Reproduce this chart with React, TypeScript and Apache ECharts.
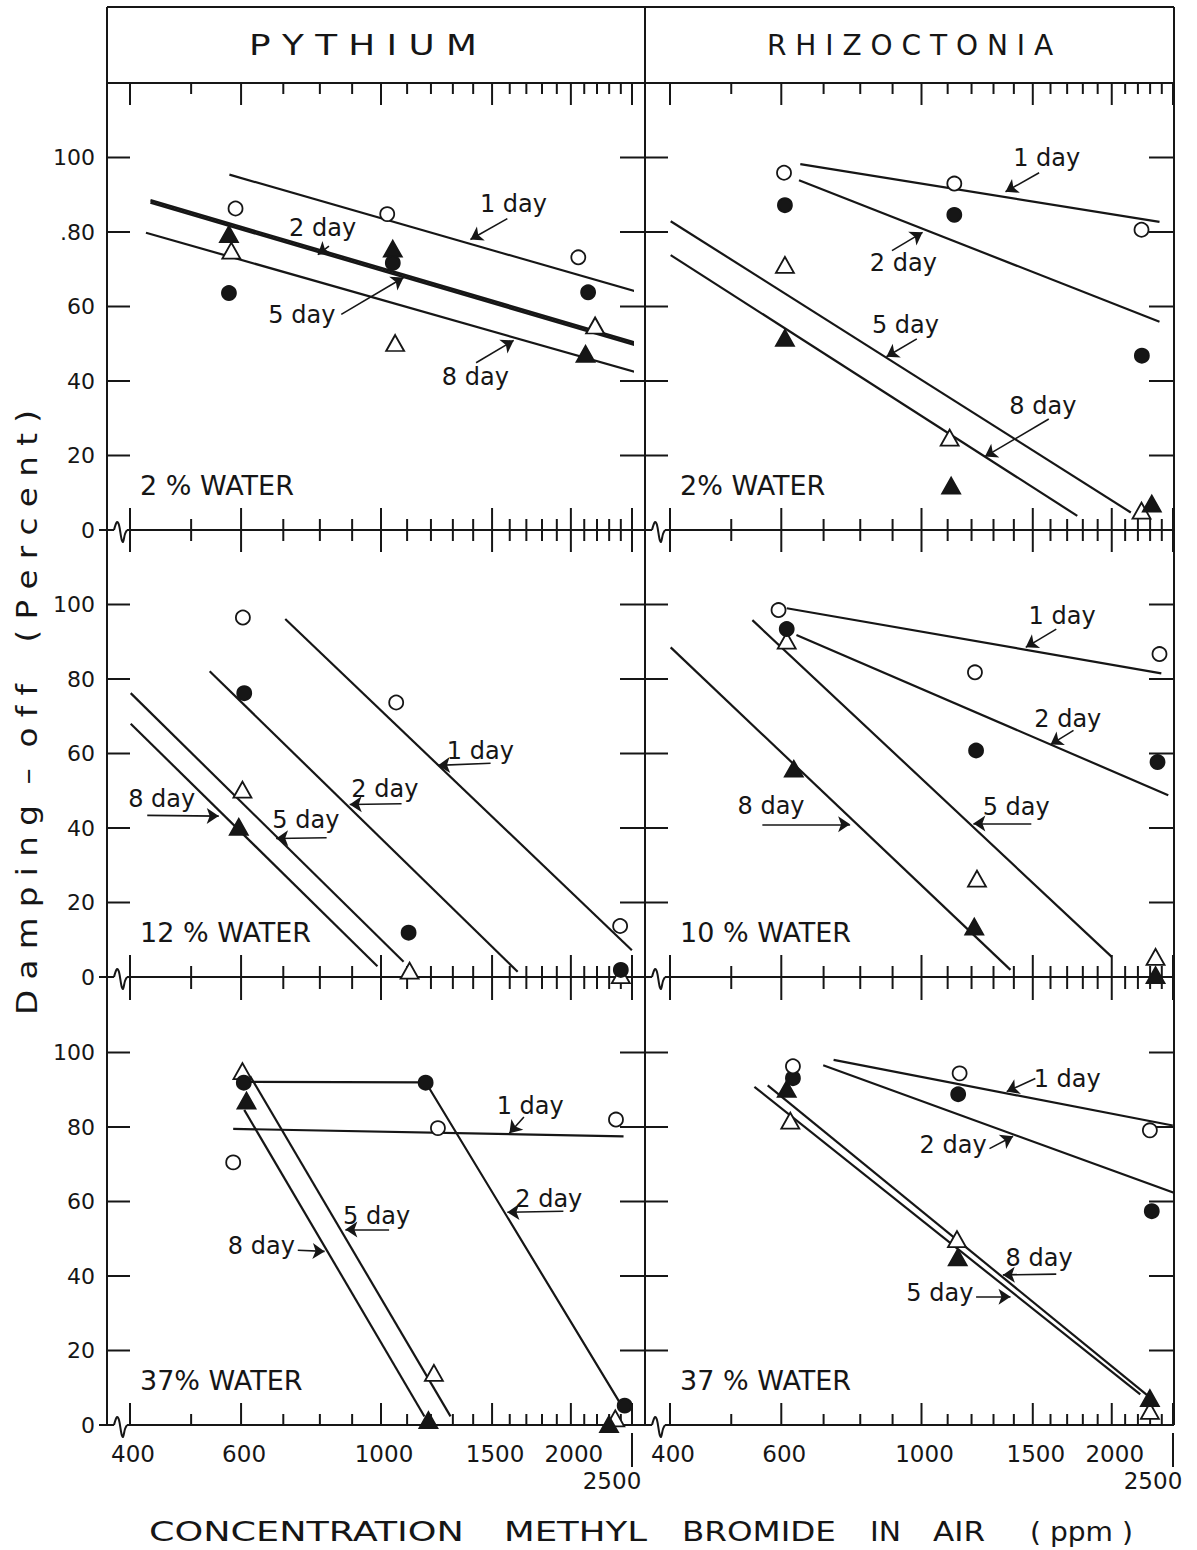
import { useEffect, useRef } from "react";
import * as echarts from "echarts";

// ---------------- axes, ticks, titles ----------------
const X_MIN = 400;
const X_MAX = 2500;
const Y_MIN = 0;
const Y_MAX = 120;
const X_TICKS = [400, 500, 600, 700, 800, 900, 1000, 1100, 1200, 1300, 1400, 1500, 1600, 1700, 1800, 1900, 2000, 2100, 2200, 2300, 2400, 2500];
const X_MAJOR_TICKS = [400, 600, 1000, 1500, 2000, 2500];
const X_TICK_LABELS = [400, 600, 1000, 1500, 2000];
const X_END_TICK = 2500;
const Y_TICKS = [0, 20, 40, 60, 80, 100];
const Y_TICK_LABELS_TOP = ["0", "20", "40", "60", ".80", "100"];
const Y_TICK_LABELS = ["0", "20", "40", "60", "80", "100"];

const ORGANISMS = ["P Y T H I U M", "R H I Z O C T O N I A"];
const WATER_LABELS = ["2 % WATER", "2% WATER", "12 % WATER", "10 % WATER", "37% WATER", "37 % WATER"];
const X_TITLE_WORDS = ["CONCENTRATION", "METHYL", "BROMIDE", "IN", "AIR", "( ppm )"];
const Y_TITLE = "D a m p i n g  –  o f f    ( P e r c e n t )";

// ---------------- data: [concentration ppm, damping-off %] ----------------
// Panel 1: Pythium, 2 % water
const P1_DAY1 = [[588, 86.3], [1023, 84.8], [2055, 73.2]];
const P1_DAY2 = [[574, 63.6], [1044, 71.7], [2130, 63.8]];
const P1_DAY5 = [[579, 75.0], [1053, 50.2], [2185, 54.9]];
const P1_DAY8 = [[574, 79.4], [1044, 75.5], [2110, 47.3]];
const P1_FIT1 = [[575, 95.4], [2540, 64.0]];
const P1_FIT2 = [[431, 88.5], [2540, 50.2]];
const P1_FIT5 = [[431, 87.9], [2540, 49.6]];
const P1_FIT8 = [[424, 79.8], [2520, 42.5]];
const P1_NOTES = [
  { text: "1 day", at: [1622, 87.4], from: [1586, 83.6], to: [1386, 78.0] },
  { text: "2 day", at: [808, 81.2], from: [827, 76.2], to: [794, 73.9] },
  { text: "5 day", at: [749, 57.8], from: [865, 57.9], to: [1086, 67.8] },
  { text: "8 day", at: [1411, 41.0], from: [1415, 44.9], to: [1623, 50.9] },
];

// Panel 2: Rhizoctonia, 2 % water
const P2_DAY1 = [[606, 95.9], [1127, 93.0], [2229, 80.6]];
const P2_DAY2 = [[608, 87.2], [1127, 84.6], [2232, 46.8]];
const P2_DAY5 = [[608, 71.2], [1108, 24.8], [2229, 5.2]];
const P2_DAY8 = [[608, 51.6], [1114, 11.9], [2314, 7.1]];
const P2_FIT1 = [[643, 98.2], [2380, 82.7]];
const P2_FIT2 = [[640, 93.9], [2380, 55.9]];
const P2_FIT5 = [[401, 82.9], [2144, 4.7]];
const P2_FIT8 = [[401, 73.8], [1764, 3.8]];
const P2_NOTES = [
  { text: "1 day", at: [1578, 99.9], from: [1535, 95.9], to: [1358, 90.8] },
  { text: "2 day", at: [936, 71.7], from: [898, 75.0], to: [1004, 79.9] },
  { text: "5 day", at: [943, 54.9], from: [983, 51.3], to: [880, 46.5] },
  { text: "8 day", at: [1556, 33.4], from: [1590, 29.8], to: [1260, 19.7] },
];

// Panel 3: Pythium, 12 % water
const P3_DAY1 = [[604, 96.5], [1057, 73.7], [2394, 13.7]];
const P3_DAY2 = [[607, 76.2], [1106, 11.9], [2400, 1.9]];
const P3_DAY5 = [[603, 50.3], [1110, 1.7], [2400, 0.5]];
const P3_DAY8 = [[595, 40.3]];
const P3_FIT1 = [[705, 96.1], [2499, 7.2]];
const P3_FIT2 = [[535, 82.1], [1647, 1.4]];
const P3_FIT5 = [[401, 76.2], [1086, 4.1]];
const P3_FIT8 = [[401, 68.0], [987, 2.9]];
const P3_NOTES = [
  { text: "1 day", at: [1437, 60.8], from: [1492, 57.4], to: [1231, 56.8] },
  { text: "2 day", at: [1014, 50.5], from: [1078, 46.5], to: [892, 46.3] },
  { text: "5 day", at: [760, 42.1], from: [820, 37.4], to: [682, 37.2] },
  { text: "8 day", at: [449, 47.9], from: [426, 43.4], to: [553, 43.2] },
];

// Panel 4: Rhizoctonia, 10 % water
const P4_DAY1 = [[594, 98.5], [1215, 81.8], [2380, 86.7]];
const P4_DAY2 = [[612, 93.4], [1220, 60.8], [2363, 57.7]];
const P4_DAY5 = [[612, 90.3], [1224, 26.4], [2346, 5.4]];
const P4_DAY8 = [[628, 55.9], [1212, 13.5], [2346, 0.5]];
const P4_FIT1 = [[612, 99.0], [2396, 81.5]];
const P4_FIT2 = [[634, 91.8], [2457, 48.8]];
const P4_FIT5 = [[540, 95.8], [2000, 5.4]];
const P4_FIT8 = [[401, 88.5], [1383, 1.9]];
const P4_NOTES = [
  { text: "1 day", at: [1669, 97.0], from: [1634, 93.4], to: [1462, 88.5] },
  { text: "2 day", at: [1704, 69.3], from: [1740, 66.2], to: [1600, 62.4] },
  { text: "5 day", at: [1412, 45.6], from: [1492, 41.2], to: [1208, 41.2] },
  { text: "8 day", at: [578, 45.8], from: [560, 41.0], to: [771, 41.0] },
];

// Panel 5: Pythium, 37 % water
const P5_DAY1 = [[583, 70.5], [1231, 79.7], [2358, 82.0]];
const P5_DAY2 = [[606, 91.9], [1177, 91.9], [2434, 5.2]];
const P5_DAY5 = [[603, 95.0], [1213, 14.0], [2352, 1.8]];
const P5_DAY8 = [[612, 87.1], [1189, 1.3], [2299, 0.2]];
const P5_FIT1 = [[583, 79.5], [2424, 77.5]];
const P5_FIT2 = [[606, 92.1], [1177, 92.0], [2387, 6.2]];
const P5_FIT5 = [[620, 93.7], [1289, 2.3]];
const P5_FIT8 = [[607, 84.6], [1172, 2.3]];
const P5_NOTES = [
  { text: "1 day", at: [1724, 85.6], from: [1685, 82.7], to: [1598, 78.3] },
  { text: "2 day", at: [1845, 60.8], from: [1946, 57.4], to: [1586, 57.1] },
  { text: "5 day", at: [984, 56.1], from: [1030, 52.5], to: [878, 52.5] },
  { text: "8 day", at: [646, 48.1], from: [738, 46.9], to: [814, 46.6] },
];

// Panel 6: Rhizoctonia, 37 % water
const P6_DAY1 = [[626, 96.3], [1149, 94.4], [2298, 79.1]];
const P6_DAY2 = [[626, 93.1], [1143, 88.8], [2314, 57.4]];
const P6_DAY5 = [[620, 81.7], [1138, 49.9], [2298, 3.8]];
const P6_DAY8 = [[612, 90.2], [1141, 45.0], [2298, 7.2]];
const P6_FIT1 = [[726, 98.0], [2498, 80.4]];
const P6_FIT2 = [[699, 96.6], [2520, 62.2]];
const P6_FIT5 = [[544, 90.8], [2219, 8.2]];
const P6_FIT8 = [[571, 91.2], [2298, 7.4]];
const P6_NOTES = [
  { text: "1 day", at: [1700, 93.0], from: [1514, 93.0], to: [1364, 89.5] },
  { text: "2 day", at: [1122, 75.2], from: [1281, 74.2], to: [1396, 77.5] },
  { text: "8 day", at: [1535, 44.7], from: [1634, 40.5], to: [1345, 40.3] },
  { text: "5 day", at: [1069, 35.4], from: [1220, 34.4], to: [1383, 34.4] },
];

const PANELS = [
  { pts: [P1_DAY1, P1_DAY2, P1_DAY5, P1_DAY8], fits: [P1_FIT1, P1_FIT2, P1_FIT5, P1_FIT8], notes: P1_NOTES, thick: true },
  { pts: [P2_DAY1, P2_DAY2, P2_DAY5, P2_DAY8], fits: [P2_FIT1, P2_FIT2, P2_FIT5, P2_FIT8], notes: P2_NOTES, thick: false },
  { pts: [P3_DAY1, P3_DAY2, P3_DAY5, P3_DAY8], fits: [P3_FIT1, P3_FIT2, P3_FIT5, P3_FIT8], notes: P3_NOTES, thick: false },
  { pts: [P4_DAY1, P4_DAY2, P4_DAY5, P4_DAY8], fits: [P4_FIT1, P4_FIT2, P4_FIT5, P4_FIT8], notes: P4_NOTES, thick: false },
  { pts: [P5_DAY1, P5_DAY2, P5_DAY5, P5_DAY8], fits: [P5_FIT1, P5_FIT2, P5_FIT5, P5_FIT8], notes: P5_NOTES, thick: false },
  { pts: [P6_DAY1, P6_DAY2, P6_DAY5, P6_DAY8], fits: [P6_FIT1, P6_FIT2, P6_FIT5, P6_FIT8], notes: P6_NOTES, thick: false },
];

// ---------------- layout & style ----------------
const W = 1197;
const H = 1550;
const FONT_NAME = "DejaVu Sans";
const INK = "#161616";
const COL_LEFT = [130, 670];
const COL_WIDTH = [502, 503];
const ROW_BOTTOM = [530, 977, 1425];
const ROW_HEIGHT = 447;
const FRAME_X = [107, 645, 1174];
const FRAME_TOP = 7;
const HEADER_BOTTOM = 83;
const HEADER_SPANS = [[249, 477], [767, 1053]];
const HEADER_Y = 45;
const X_TITLE_SPANS = [[149, 464], [504, 647], [682, 836], [870, 901], [933, 985], [1030, 1133]];
const X_TITLE_Y = 1532;
const Y_TITLE_X = 27;
const Y_TITLE_SPAN = [410, 1015];
// draw order: 5 day (open tri), 8 day (filled tri), 2 day (filled circle), 1 day (open circle)
const DRAW_ORDER = [2, 3, 1, 0];
const MARKERS = [
  { symbol: "circle", size: 14, fill: "#ffffff" },
  { symbol: "circle", size: 14, fill: INK },
  { symbol: "triangle", size: [18, 16], fill: "#ffffff" },
  { symbol: "triangle", size: [18, 16], fill: INK },
];

function font(size: number) {
  return `${size}px "${FONT_NAME}"`;
}

function measure(text: string, size: number): number {
  const ctx = document.createElement("canvas").getContext("2d");
  if (!ctx) return text.length * size * 0.6;
  ctx.font = font(size);
  return ctx.measureText(text).width;
}

function seg(x1: number, y1: number, x2: number, y2: number, w = 2) {
  return { type: "line", silent: true, shape: { x1, y1, x2, y2 }, style: { stroke: INK, lineWidth: w } };
}

function txt(text: string, x: number, y: number, size: number, align: string) {
  return {
    type: "text",
    x,
    y,
    silent: true,
    style: {
      text,
      font: font(size),
      fill: INK,
      textAlign: align,
      align,
      textVerticalAlign: "middle",
      verticalAlign: "middle",
    },
  };
}

function fitText(text: string, x0: number, x1: number, y: number, size: number) {
  const el: any = txt(text, x0, y, size, "left");
  el.scaleX = (x1 - x0) / measure(text, size);
  return el;
}

function buildOption() {
  const grid: any[] = [];
  const xAxis: any[] = [];
  const yAxis: any[] = [];
  const series: any[] = [];

  PANELS.forEach((p, i) => {
    const col = i % 2;
    const row = Math.floor(i / 2);
    const leftFrame = FRAME_X[col];
    const rightFrame = FRAME_X[col + 1];
    grid.push({ left: COL_LEFT[col], top: ROW_BOTTOM[row] - ROW_HEIGHT, width: COL_WIDTH[col], height: ROW_HEIGHT });
    xAxis.push({ type: "log", logBase: 10, gridIndex: i, min: X_MIN, max: X_MAX, show: false });
    yAxis.push({ type: "value", gridIndex: i, min: Y_MIN, max: Y_MAX, show: false });

    // x-axis line with break mark
    series.push({
      type: "custom",
      xAxisIndex: i,
      yAxisIndex: i,
      silent: true,
      clip: false,
      z: 1,
      data: [[X_MIN, Y_MIN]],
      renderItem: (_params: any, api: any) => {
        const y = api.coord([X_MIN, Y_MIN])[1];
        const start = col === 0 ? leftFrame - 8 : leftFrame;
        const b = leftFrame + 7;
        return {
          type: "group",
          children: [
            seg(start, y, b, y),
            {
              type: "polyline",
              shape: { points: [[b, y], [b + 3, y - 8], [b + 5, y - 5], [b + 7.5, y + 9], [b + 9, y + 12], [b + 11, y + 4], [b + 13, y]], smooth: 0.35 },
              style: { stroke: INK, lineWidth: 2, fill: null },
            },
            seg(b + 13, y, rightFrame, y),
          ],
        };
      },
    });

    // x ticks (bottom up, top down) and bottom labels
    series.push({
      type: "custom",
      xAxisIndex: i,
      yAxisIndex: i,
      silent: true,
      clip: false,
      z: 1,
      data: X_TICKS.map((t) => [t, Y_MIN]),
      renderItem: (_params: any, api: any) => {
        const t = Math.round(api.value(0));
        const bp = api.coord([t, Y_MIN]);
        const tp = api.coord([t, Y_MAX]);
        const len = X_MAJOR_TICKS.indexOf(t) >= 0 ? 22 : 11;
        const children: any[] = [seg(bp[0], bp[1], bp[0], bp[1] - len), seg(tp[0], tp[1], tp[0], tp[1] + len)];
        if (row === 2) {
          if (X_TICK_LABELS.indexOf(t) >= 0) children.push(txt(String(t), bp[0] + 3, bp[1] + 29, 23, "center"));
          if (t === X_END_TICK) {
            children.push(seg(bp[0], bp[1] + 8, bp[0], bp[1] + 42));
            children.push(txt(String(t), bp[0] - 20, bp[1] + 56, 23, "center"));
          }
        }
        return { type: "group", children };
      },
    });

    // y ticks and labels
    const yLabels = i === 0 ? Y_TICK_LABELS_TOP : Y_TICK_LABELS;
    series.push({
      type: "custom",
      xAxisIndex: i,
      yAxisIndex: i,
      silent: true,
      clip: false,
      z: 1,
      data: Y_TICKS.map((v) => [X_MIN, v]),
      renderItem: (params: any, api: any) => {
        const v = api.value(1);
        const y = api.coord([X_MIN, v])[1];
        const children: any[] = [];
        if (v > 0) {
          children.push(seg(leftFrame, y, leftFrame + 23, y));
          children.push(seg(rightFrame - 25, y, rightFrame, y));
        }
        if (col === 0) children.push(txt(yLabels[params.dataIndex], 95, y, 22, "right"));
        return { type: "group", children };
      },
    });

    // fitted lines
    p.fits.forEach((fit, k) => {
      series.push({
        type: "line",
        xAxisIndex: i,
        yAxisIndex: i,
        data: fit,
        symbol: "none",
        silent: true,
        clip: false,
        z: 2,
        lineStyle: { color: INK, width: p.thick && (k === 1 || k === 2) ? 2.6 : 2.2 },
      });
    });

    // observed points
    DRAW_ORDER.forEach((k) => {
      const m = MARKERS[k];
      series.push({
        type: "scatter",
        xAxisIndex: i,
        yAxisIndex: i,
        data: p.pts[k],
        symbol: m.symbol,
        symbolSize: m.size,
        silent: true,
        clip: false,
        z: 4,
        itemStyle: { color: m.fill, borderColor: INK, borderWidth: 1.8, opacity: 1 },
      });
    });

    // day labels with arrows
    series.push({
      type: "scatter",
      xAxisIndex: i,
      yAxisIndex: i,
      data: p.notes.map((n) => ({ name: n.text, value: n.at })),
      symbolSize: 0,
      itemStyle: { color: INK, opacity: 1 },
      silent: true,
      clip: false,
      z: 6,
      label: {
        show: true,
        position: "inside",
        formatter: "{b}",
        fontFamily: FONT_NAME,
        fontSize: 24,
        color: INK,
        opacity: 1,
        textBorderWidth: 0,
      },
      markLine: {
        silent: true,
        symbol: ["none", "arrow"],
        symbolSize: 12,
        lineStyle: { color: INK, width: 1.6, type: "solid", opacity: 1 },
        label: { show: false },
        data: p.notes.map((n) => [{ coord: n.from }, { coord: n.to }]),
      },
    });
  });

  // frame and texts
  const graphic: any[] = [];
  graphic.push(seg(FRAME_X[0], FRAME_TOP, FRAME_X[2], FRAME_TOP));
  graphic.push(seg(FRAME_X[0], HEADER_BOTTOM, FRAME_X[2], HEADER_BOTTOM));
  FRAME_X.forEach((x) => graphic.push(seg(x, FRAME_TOP, x, ROW_BOTTOM[2])));
  ORGANISMS.forEach((name, c) => graphic.push(fitText(name, HEADER_SPANS[c][0], HEADER_SPANS[c][1], HEADER_Y, 28)));
  WATER_LABELS.forEach((label, i) => {
    const col = i % 2;
    const row = Math.floor(i / 2);
    graphic.push(txt(label, COL_LEFT[col] + 10, ROW_BOTTOM[row] - 45, 27, "left"));
  });
  X_TITLE_WORDS.forEach((w, k) => graphic.push(fitText(w, X_TITLE_SPANS[k][0], X_TITLE_SPANS[k][1], X_TITLE_Y, 27)));
  const yt: any = txt(Y_TITLE, Y_TITLE_X, (Y_TITLE_SPAN[0] + Y_TITLE_SPAN[1]) / 2, 28, "center");
  yt.rotation = Math.PI / 2;
  yt.scaleX = (Y_TITLE_SPAN[1] - Y_TITLE_SPAN[0]) / measure(Y_TITLE, 28);
  graphic.push(yt);

  return {
    animation: false,
    backgroundColor: "#ffffff",
    grid,
    xAxis,
    yAxis,
    series,
    graphic: { elements: graphic },
  };
}

export default function App() {
  const ref = useRef<HTMLDivElement>(null);
  useEffect(() => {
    if (!ref.current) return;
    const chart = echarts.init(ref.current, null, { renderer: "svg", width: W, height: H });
    chart.setOption(buildOption());
    return () => chart.dispose();
  }, []);
  return <div ref={ref} style={{ position: "absolute", left: 0, top: 0, width: W, height: H, background: "#fff" }} />;
}
